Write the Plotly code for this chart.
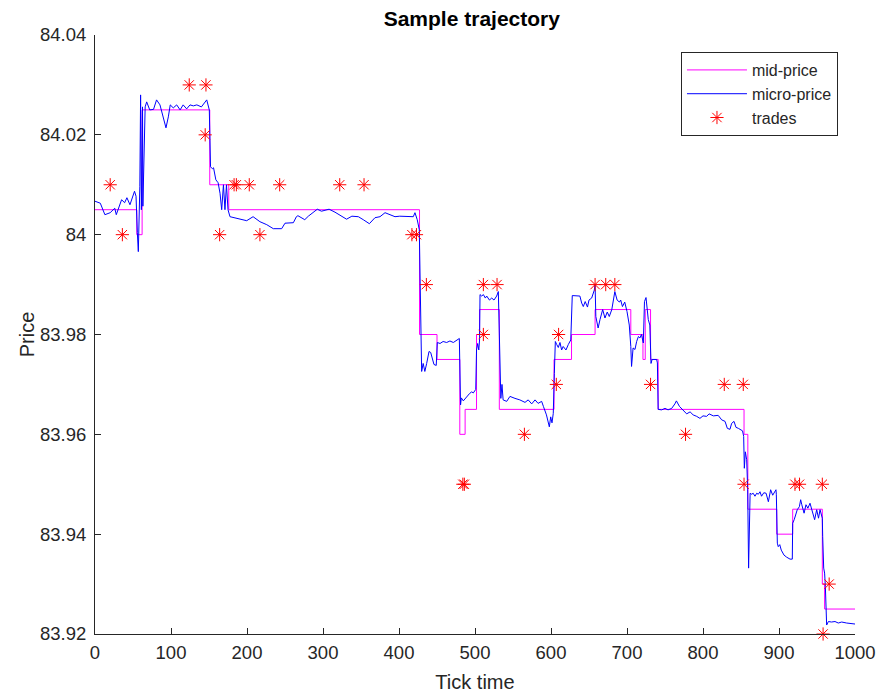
import plotly.graph_objects as go

# micro-price samples (tick time, price)
micro_t = [0, 7, 13, 20, 26, 28, 35, 39, 42, 46, 52, 54, 55.7, 57, 59, 60, 61, 62.5, 63, 66, 68, 72, 77, 81, 85.5,
           90, 93.4, 96.5, 99, 103, 107.5, 112, 116, 120.6, 125, 129.4, 134, 140, 147, 150.4, 152, 154.5, 156, 159,
           162, 164.5, 166.7, 169, 171, 173, 175, 177.6, 186.4, 199.6, 208, 217, 226, 234.6, 245.6, 250, 261, 265,
           267, 272, 276, 280.7, 287, 292.5, 298, 308, 315.8, 324.6, 331, 338, 346.5, 353, 361, 368.4, 375, 381.6,
           388, 394.7, 401, 410, 418.8, 421, 424, 426.7, 427.2, 428.5, 429.8, 431.8, 434, 436.4, 439.5, 441.7, 444,
           446, 449, 450.4, 454, 458, 462.7, 467, 471.5, 476, 479.4, 481, 482, 484.6, 489, 493, 495.6, 497.8, 501,
           502, 503.5, 505, 506, 506.6, 508.8, 511, 513.6, 515.4, 519, 522, 525, 528.5, 530.7, 532, 533, 534, 535.5,
           537, 541.7, 546, 552.6, 559, 565.8, 570, 574.6, 579, 583, 587.7, 590, 594, 597.8, 599.6, 601.3, 603,
           604.4, 605.7, 607.5, 609.6, 611.8, 614, 616, 619.7, 622.8, 626, 628, 633.8, 638, 640.4, 642.5, 645, 648,
           650, 653.5, 657, 658, 659, 662, 664.5, 668, 671, 674, 676.7, 680, 684, 687, 690, 691.7, 694, 697, 700,
           703, 705, 706, 708, 710.5, 712.7, 715, 717, 719, 721.5, 723, 725, 726.7, 728, 730, 731.6, 733, 736, 739,
           740, 741, 745.6, 750, 754, 758.8, 763, 765, 769, 774, 778.5, 783, 787, 791.7, 796, 800, 804.8, 808,
           813.6, 820, 824.6, 829, 832, 835.5, 837.7, 840.8, 843.4, 846.5, 849.6, 852, 853.5, 854.4, 855.7, 857.5,
           858.8, 860, 862, 864, 866, 868.4, 870.6, 872.8, 875, 877, 880, 883, 886, 889, 891.7, 894.7, 896, 896.5,
           897.8, 899, 901, 903, 906.6, 910, 914.5, 917.5, 918, 920, 922, 924, 926.8, 928.5, 930, 933, 935.5, 938,
           940.8, 944, 946.9, 949.6, 952, 954, 957, 957.5, 958.8, 960, 961, 962.7, 965, 969, 973.7, 978, 982.5,
           989, 995.6, 1000]
micro_p = [84.0067, 84.0063, 84.0040, 84.0044, 84.0053, 84.0040, 84.0070, 84.0064, 84.0074, 84.0060, 84.0087,
           84.0077, 84.0004, 83.9966, 84.0096, 84.0280, 84.0050, 84.0256, 84.0057, 84.0256, 84.0266, 84.0250,
           84.0251, 84.0270, 84.0260, 84.0230, 84.0214, 84.0236, 84.0260, 84.0254, 84.0260, 84.0250, 84.0260,
           84.0252, 84.0260, 84.0258, 84.0260, 84.0256, 84.0270, 84.0250, 84.0136, 84.0132, 84.0134, 84.0110,
           84.0104, 84.0083, 84.0050, 84.0100, 84.0050, 84.0100, 84.0050, 84.0036, 84.0033, 84.0028, 84.0036,
           84.0026, 84.0020, 84.0012, 84.0012, 84.0023, 84.0024, 84.0036, 84.0038, 84.0034, 84.0030, 84.0037,
           84.0044, 84.0051, 84.0047, 84.0051, 84.0045, 84.0037, 84.0031, 84.0037, 84.0036, 84.0030, 84.0022,
           84.0034, 84.0036, 84.0044, 84.0040, 84.0036, 84.0037, 84.0036, 84.0036, 84.0044, 84.0030, 84.0010,
           83.9956, 83.9849, 83.9726, 83.9742, 83.9726, 83.9742, 83.9766, 83.9764, 83.9750, 83.9740, 83.9738,
           83.9784, 83.9782, 83.9786, 83.9784, 83.9787, 83.9784, 83.9788, 83.9792, 83.9659, 83.9673, 83.9667,
           83.9676, 83.9682, 83.9685, 83.9683, 83.9690, 83.9769, 83.9782, 83.9769, 83.9789, 83.9880, 83.9877,
           83.9880, 83.9873, 83.9877, 83.9869, 83.9873, 83.9869, 83.9877, 83.9886, 83.9803, 83.9702, 83.9672,
           83.9700, 83.9669, 83.9666, 83.9676, 83.9672, 83.9669, 83.9664, 83.9669, 83.9661, 83.9669, 83.9662,
           83.9666, 83.9656, 83.9639, 83.9615, 83.9635, 83.9623, 83.9642, 83.9722, 83.9786, 83.9780, 83.9774,
           83.9784, 83.9769, 83.9776, 83.9769, 83.9780, 83.9789, 83.9878, 83.9877, 83.9877, 83.9863, 83.9856,
           83.9866, 83.9855, 83.9869, 83.9873, 83.9889, 83.9900, 83.9836, 83.9813, 83.9830, 83.9850, 83.9833,
           83.9845, 83.9836, 83.9850, 83.9886, 83.9869, 83.9865, 83.9869, 83.9856, 83.9865, 83.9846, 83.9819,
           83.9776, 83.9736, 83.9773, 83.9770, 83.9786, 83.9796, 83.9793, 83.9800, 83.9783, 83.9866, 83.9874,
           83.9843, 83.9830, 83.9819, 83.9742, 83.9750, 83.9750, 83.9750, 83.9743, 83.9650, 83.9649, 83.9652,
           83.9649, 83.9652, 83.9661, 83.9667, 83.9656, 83.9648, 83.9641, 83.9645, 83.9639, 83.9636, 83.9632,
           83.9637, 83.9636, 83.9641, 83.9637, 83.9638, 83.9629, 83.9626, 83.9612, 83.9610, 83.9622, 83.9626,
           83.9614, 83.9612, 83.9609, 83.9607, 83.9596, 83.9532, 83.9565, 83.9549, 83.9489, 83.9332, 83.9482,
           83.9480, 83.9482, 83.9476, 83.9482, 83.9480, 83.9485, 83.9476, 83.9483, 83.9482, 83.9465, 83.9489,
           83.9478, 83.9485, 83.9489, 83.9480, 83.9382, 83.9375, 83.9379, 83.9368, 83.9358, 83.9354, 83.9350,
           83.9350, 83.9422, 83.9429, 83.9442, 83.9449, 83.9455, 83.9469, 83.9459, 83.9442, 83.9459, 83.9452,
           83.9462, 83.9442, 83.9429, 83.9449, 83.9432, 83.9449, 83.9432, 83.9395, 83.9332, 83.9322, 83.9295,
           83.9218, 83.9225, 83.9224, 83.9225, 83.9222, 83.9224, 83.9222, 83.9221, 83.9220]

# mid-price step function: value holds from each time until the next
mid_t = [0, 55, 62, 151, 176, 427, 450, 480, 487, 502, 506, 532, 604, 627, 658, 705, 721, 724, 731, 741,
         854, 859, 897, 918, 957, 960, 1000]
mid_p = [84.005, 84.000, 84.025, 84.010, 84.005, 83.980, 83.975, 83.960, 83.965, 83.980, 83.985, 83.965,
         83.975, 83.980, 83.985, 83.980, 83.975, 83.985, 83.975, 83.965, 83.960, 83.945, 83.940, 83.945,
         83.930, 83.925, 83.925]

# trades
trade_t = [20, 36, 124, 145, 146, 164, 183, 186, 203, 217, 243, 322, 354, 417, 423, 436, 484, 486, 511, 511,
           529, 565, 607, 610, 658, 672, 684, 731, 777, 828, 853, 854, 921, 927, 957, 958, 966]
trade_p = [84.01, 84.00, 84.03, 84.02, 84.03, 84.00, 84.01, 84.01, 84.01, 84.00, 84.01, 84.01, 84.01, 84.00,
           84.00, 83.99, 83.95, 83.95, 83.99, 83.98, 83.99, 83.96, 83.97, 83.98, 83.99, 83.99, 83.99, 83.97,
           83.96, 83.97, 83.97, 83.95, 83.95, 83.95, 83.95, 83.92, 83.93]

x_ticks = [0, 100, 200, 300, 400, 500, 600, 700, 800, 900, 1000]
y_ticks = [83.92, 83.94, 83.96, 83.98, 84.00, 84.02, 84.04]
y_tick_labels = ["83.92", "83.94", "83.96", "83.98", "84", "84.02", "84.04"]

FONT = "Liberation Sans, Arial, Helvetica, sans-serif"
TXT = "#262626"

fig = go.Figure()
fig.add_trace(go.Scatter(x=mid_t, y=mid_p, mode="lines", name="mid-price",
                         line=dict(color="#ff00ff", width=1, shape="hv")))
fig.add_trace(go.Scatter(x=micro_t, y=micro_p, mode="lines", name="micro-price",
                         line=dict(color="#0000ff", width=1)))
fig.add_trace(go.Scatter(x=trade_t, y=trade_p, mode="markers", name="trades", cliponaxis=False,
                         marker=dict(symbol="asterisk-open", size=11, color="#ff0000",
                                     line=dict(color="#ff0000", width=1))))

fig.update_layout(
    width=877, height=693,
    margin=dict(l=95, r=22, t=35, b=59, autoexpand=False),
    paper_bgcolor="white", plot_bgcolor="white",
    font=dict(family=FONT, color=TXT, size=18),
    title=dict(text="<b>Sample trajectory</b>", x=0.538, xanchor="center", y=0.9735, yanchor="middle",
               font=dict(size=21, color="black", family=FONT)),
    showlegend=True,
    legend=dict(x=0.9776, y=0.9716, xanchor="right", yanchor="top", bgcolor="white",
                bordercolor=TXT, borderwidth=1, font=dict(size=16, color=TXT, family=FONT),
                tracegroupgap=0, itemwidth=60),
)
fig.update_xaxes(range=[0, 1000], tickvals=x_ticks, ticks="inside", ticklen=6, tickcolor=TXT,
                 showline=True, linecolor=TXT, linewidth=1, mirror=False, showgrid=False, zeroline=False,
                 automargin=False, tickfont=dict(size=18.5, color=TXT), ticklabelstandoff=2,
                 title=dict(text="Tick time", font=dict(size=20, color=TXT), standoff=14))
fig.update_yaxes(range=[83.92, 84.04], tickvals=y_ticks, ticktext=y_tick_labels, ticks="inside", ticklen=6,
                 tickcolor=TXT, showline=True, linecolor=TXT, linewidth=1, mirror=False, showgrid=False,
                 zeroline=False, automargin=False, tickfont=dict(size=18.5, color=TXT), ticklabelstandoff=4,
                 title=dict(text="Price", font=dict(size=20, color=TXT), standoff=0))

# remove the default page margin so the figure fills the 877x693 window exactly
fig.write_html("out.html", config={"displayModeBar": False},
               post_script="document.body.style.margin='0';document.body.style.overflow='hidden';")
